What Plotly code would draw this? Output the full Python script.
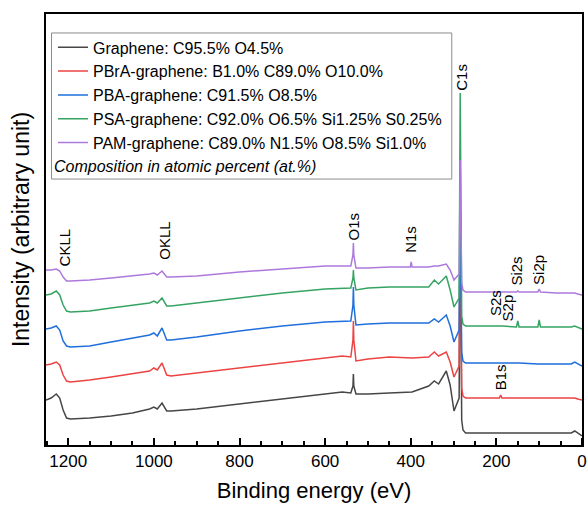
import plotly.graph_objects as go

# Binding energy (eV) key points
energy = [1252, 1240, 1228, 1220, 1212, 1204, 1195, 1150, 1100, 1050,
          1010, 1000, 992, 981, 970, 960, 900, 800, 700, 600,
          560, 540, 535, 534, 533, 528, 500, 450, 401, 399,
          397, 358, 345, 335, 317, 308, 299, 287, 284.5, 281,
          278, 272, 230, 193, 190, 187, 153, 150, 147, 103,
          100, 97, 60, 25, 17, 10, 0]

# Intensities (arbitrary units, stacked/offset as in the figure)
graphene = [45, 47, 51, 47, 35, 27, 26, 27, 29, 32,
            36, 38, 36, 42, 34, 34, 36, 41, 46, 51,
            53, 52, 59, 71, 59, 51, 51, 52, 53, 53,
            53, 59, 64, 61, 74, 60, 34, 47, 245, 25,
            15, 12, 12, 12, 12, 12, 12, 12, 12, 12,
            12, 12, 12, 12, 14, 12, 9]
pbra = [80, 81, 83, 80, 70, 64, 63, 65, 68, 71,
        74, 77, 75, 82, 70, 69, 72, 77, 82, 87,
        89, 88, 105, 124, 105, 84, 86, 88, 87, 87,
        87, 88, 93, 89, 93, 83, 68, 79, 245, 57,
        49, 47, 47, 47, 50, 47, 47, 47, 47, 47,
        47, 47, 47, 47, 47, 46, 45]
pba = [116, 117, 119, 115, 104, 99, 98, 99, 103, 107,
       110, 112, 109, 117, 105, 105, 108, 114, 119, 123,
       124, 124, 140, 158, 140, 120, 121, 122, 122, 122,
       122, 122, 126, 123, 130, 119, 103, 115, 245, 93,
       84, 82, 82, 82, 82, 82, 82, 82, 82, 81,
       81, 81, 81, 81, 83, 81, 79]
psa = [150, 151, 154, 150, 140, 134, 133, 134, 137, 140,
       142, 144, 142, 147, 139, 139, 142, 147, 152, 156,
       157, 157, 167, 175, 167, 155, 157, 158, 158, 158,
       158, 158, 165, 161, 169, 155, 138, 147, 352, 129,
       121, 119, 119, 119, 119, 119, 118, 124, 118, 118,
       125, 118, 118, 118, 119, 118, 116]
pam = [175, 175, 176, 174, 168, 164, 164, 165, 167, 169,
       171, 172, 170, 174, 168, 168, 169, 173, 176, 179,
       179, 179, 190, 202, 190, 177, 177, 178, 178, 183,
       178, 178, 179, 179, 181, 175, 165, 171, 285, 162,
       155, 153, 153, 153, 153, 153, 153, 154, 153, 153,
       156, 153, 152, 152, 152, 151, 150]

series_names = [
    "Graphene: C95.5% O4.5%",
    "PBrA-graphene: B1.0% C89.0% O10.0%",
    "PBA-graphene: C91.5% O8.5%",
    "PSA-graphene: C92.0% O6.5% Si1.25% S0.25%",
    "PAM-graphene: C89.0% N1.5% O8.5% Si1.0%",
]
series_colors = ["#464646", "#ec4343", "#1f6fdc", "#35a463", "#ad79dc"]

# Peak labels: name, energy (eV), label base height (a.u.)
peak_labels = ["CKLL", "OKLL", "O1s", "N1s", "C1s", "S2s", "S2p", "Si2s", "Si2p", "B1s"]
peak_energy = [1209, 977, 534, 401, 282, 203, 173, 154, 103, 191]
peak_height = [177, 183, 203, 190, 352, 127, 122, 157, 158, 53]

FONT = "Liberation Sans, Arial, sans-serif"
X_RANGE = [1252, 0]

fig = go.Figure()
for name, ys, col in zip(series_names, [graphene, pbra, pba, psa, pam], series_colors):
    fig.add_trace(go.Scatter(x=energy, y=ys, mode="lines", name=name,
                             line=dict(color=col, width=1.5)))

# invisible carrier trace so the tick-only overlay axis is drawn
fig.add_trace(go.Scatter(x=energy, y=graphene, xaxis="x2", mode="lines",
                         line=dict(width=0, color="rgba(0,0,0,0)"),
                         showlegend=False, hoverinfo="skip"))

for lab, e, h in zip(peak_labels, peak_energy, peak_height):
    fig.add_annotation(x=e, y=h, text=lab, textangle=-90, showarrow=False,
                       xanchor="center", yanchor="bottom",
                       font=dict(family=FONT, size=15, color="black"))

# italic note inside legend box
fig.add_annotation(x=0.012, y=0.646, xref="paper", yref="paper",
                   text="<i>Composition in atomic percent (at.%)</i>",
                   showarrow=False, xanchor="left", yanchor="middle",
                   font=dict(family=FONT, size=16, color="black"))
# legend box
fig.add_shape(type="rect", xref="paper", yref="paper",
              x0=0.0103, x1=0.757, y0=0.617, y1=0.956,
              line=dict(color="#8c8c8c", width=1), fillcolor="rgba(0,0,0,0)")

fig.update_layout(
    template="none",
    width=588, height=506,
    margin=dict(l=46, r=6, t=14, b=61),
    paper_bgcolor="white", plot_bgcolor="white",
    font=dict(family=FONT, color="black"),
    showlegend=True,
    legend=dict(x=0.013, y=0.962, xanchor="left", yanchor="top",
                bgcolor="rgba(0,0,0,0)", borderwidth=0,
                font=dict(family=FONT, size=16, color="black")),
    xaxis=dict(range=X_RANGE, tickmode="linear", tick0=0, dtick=200,
               ticks="inside", ticklen=7, tickwidth=2, tickcolor="black",
               minor=dict(dtick=50, ticks="inside", ticklen=4,
                          tickwidth=1.5, tickcolor="black", showgrid=False),
               showline=True, linewidth=2, linecolor="black", mirror=True,
               showgrid=False, zeroline=False, automargin=False,
               tickfont=dict(family=FONT, size=17, color="black"),
               title=dict(text="Binding energy (eV)", standoff=12,
                          font=dict(family=FONT, size=22, color="black"))),
    # overlay axis sitting on the bottom edge: its "outside" ticks point up into the plot
    xaxis2=dict(range=X_RANGE, overlaying="x", side="top", anchor="free", position=0,
                tickmode="linear", tick0=0, dtick=200,
                ticks="outside", ticklen=7, tickwidth=2, tickcolor="black",
                minor=dict(dtick=50, ticks="outside", ticklen=4,
                           tickwidth=1.5, tickcolor="black", showgrid=False),
                showticklabels=False, showline=False, showgrid=False,
                zeroline=False, automargin=False),
    yaxis=dict(range=[0, 431], showticklabels=False, ticks="",
               showline=True, linewidth=2, linecolor="black", mirror=True,
               showgrid=False, zeroline=False, automargin=False,
               title=dict(text="Intensity (arbitrary unit)", standoff=8,
                          font=dict(family=FONT, size=23, color="black"))),
)

fig.write_html("out.html", config={"displayModeBar": False},
               post_script="document.body.style.margin='0';document.body.style.overflow='hidden';")
